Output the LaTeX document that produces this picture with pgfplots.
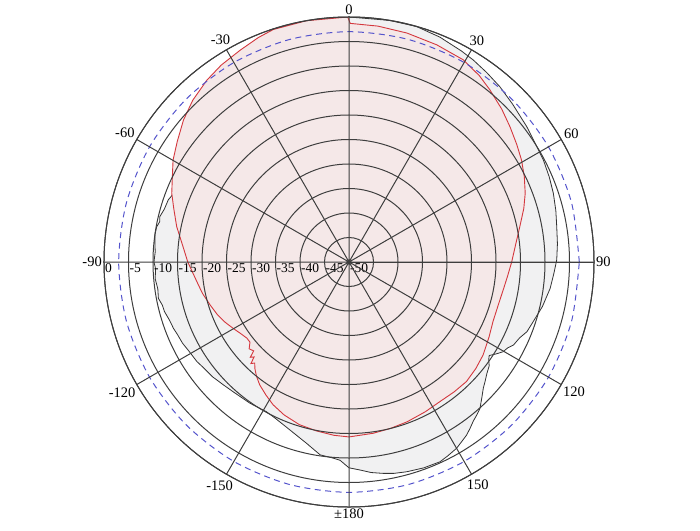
\documentclass[border=0pt]{standalone}
\usepackage{pgfplots}
\pgfplotsset{compat=1.18}
\usepgfplotslibrary{polar}
\usepackage{pgfplotstable}
\usepackage{fontspec}
\setmainfont{Liberation Serif}

\definecolor{pinkfill}{RGB}{245,232,232}
\definecolor{grayfill}{RGB}{241,241,242}
\definecolor{redline}{RGB}{212,56,62}
\definecolor{gridc}{RGB}{62,62,62}
\definecolor{dashc}{RGB}{84,84,204}

% angle in degrees (0 = up, clockwise), level in dB
\pgfplotstableread{
theta db
-180 -14.3
-175 -14.5
-169 -14.9
-163 -15.3
-157 -16.1
-152 -17.0
-148 -18.0
-144 -19.0
-141 -20.0
-138.5 -21.0
-137 -21.8
-136 -21.2
-135 -22.6
-134 -22.0
-133 -23.4
-131 -23.0
-129 -24.0
-126.7 -24.0
-124 -23.6
-120 -22.8
-116 -21.9
-112 -21.1
-107 -20.3
-102 -19.4
-97.4 -18.7
-90 -17.1
-84 -15.8
-78.4 -14.1
-73 -12.6
-68.8 -11.2
-64 -9.9
-59.9 -8.5
-55 -7.2
-49.4 -5.5
-44 -4.1
-38 -2.9
-33 -2.1
-27.2 -1.4
-22 -0.6
-18 -0.1
-10 0.0
-0.3 0.0
0.3 -1.3
7 -1.5
14.2 -1.8
22 -2.2
29.5 -2.6
35 -3.6
39.3 -4.6
45 -5.9
50 -7.1
55 -8.2
59.4 -9.1
64 -10.2
68.7 -11.4
73 -12.7
78.3 -14.4
84 -15.8
90 -16.8
95 -17.5
100 -18.0
106 -18.3
112.5 -18.2
118 -17.6
124.7 -16.7
130 -16.2
135.5 -15.8
141 -15.9
146.9 -16.0
153 -15.7
160 -15.3
166 -15.0
172 -14.7
180 -14.3
}\redtab

\pgfplotstableread{
theta db
-180 -8.0
-177.4 -9.5
-175 -9.9
-171.5 -10.2
-166.8 -12.0
-160 -13.8
-155 -14.7
-151.2 -15.1
-145 -14.8
-138.3 -14.5
-134 -14.1
-130 -13.6
-126 -13.3
-123.2 -12.9
-119 -12.6
-116 -12.2
-113 -12.0
-110.7 -11.7
-108 -11.5
-105 -11.0
-103 -10.9
-100.8 -10.4
-98 -10.6
-95 -10.3
-92 -10.5
-90 -10.2
-87 -10.4
-84.5 -10.2
-82 -10.0
-79.6 -10.1
-78 -10.5
-76.5 -10.3
-74 -10.8
-71 -11.0
-69 -11.5
-67 -11.4
-65.5 -11.9
-64 -11.7
-62.5 -12.3
-61.3 -12.2
-58.5 -12.7
-56.2 -12.6
-54.5 -12.0
-53 -12.2
-50.8 -11.6
-48 -10.9
-46.5 -10.4
-45 -10.0
-43.5 -9.4
-41.8 -8.4
-39 -8.0
-36.7 -7.1
-34.5 -6.6
-32 -5.4
-30.5 -4.6
-29 -3.8
-28.5 -1.8
-27 -1.5
-22 -0.7
-18 -0.1
-10 0.0
0 0.0
9.5 0.0
16 0.0
20 -0.4
22 -0.5
24 -0.8
28 -1.2
31.6 -1.6
36 -2.2
40.7 -2.8
46 -3.6
52.7 -4.4
57 -4.9
62.3 -5.2
67 -5.6
71.4 -6.0
76 -6.5
80.4 -7.0
85 -7.3
89.4 -7.6
93 -8.1
97.5 -8.6
103 -9.5
108 -10.5
111.4 -11.0
114 -11.9
116.8 -12.4
118.5 -13.2
120.2 -13.6
122 -14.6
123.7 -15.6
125 -15.2
126.5 -14.4
129 -13.8
131.4 -13.0
133.2 -12.4
135.5 -11.3
138.2 -9.9
140.2 -9.3
142 -8.8
144 -8.0
145.8 -7.3
148 -6.7
150 -6.1
153 -5.6
155.5 -5.2
160 -5.3
164.6 -5.6
168 -5.9
170.8 -6.3
174 -6.8
177 -7.5
180 -8.0
}\blacktab

\begin{document}
\begin{tikzpicture}[lab/.style={anchor=north west, inner sep=1pt, font=\fontsize{13.5}{13.5}\selectfont}]
\begin{polaraxis}[
    scale only axis,
    width=490pt, height=490pt,
    xmin=0, xmax=360,
    ymin=0, ymax=50,
    xtick={0,30,...,330},
    xticklabels={90,60,30,0,-30,-60,-90,-120,-150,±180,150,120},
    ytick={5,10,...,50},
    yticklabels={},
    grid=major,
    major grid style={gridc, line width=1pt},
    axis line style={gridc, line width=1pt},
    major tick length=0pt,
    axis on top,
    xticklabel style={font=\fontsize{14.5}{14.5}\selectfont, inner sep=2pt},
]
\addplot[draw=black!80, fill=grayfill, line width=0.8pt]
    table[x expr={90-\thisrow{theta}}, y expr={\thisrow{db}+50}] {\blacktab};
\addplot[draw=redline, fill=pinkfill, line width=0.9pt]
    table[x expr={90-\thisrow{theta}}, y expr={\thisrow{db}+50}] {\redtab};
% -3 dB reference circle
\addplot[dashc, line width=1pt, dash pattern=on 6pt off 4.5pt, smooth] coordinates {
    (0,47) (15,47) (30,47) (45,47) (60,47) (75,47) (90,47) (105,47)
    (120,47) (135,47) (150,47) (165,47) (180,47) (195,47) (210,47) (225,47)
    (240,47) (255,47) (270,47) (285,47) (300,47) (315,47) (330,47) (345,47) (360,47)
};
\node[lab] at (axis cs:180,50) {0};
\node[lab] at (axis cs:180,45) {-5};
\node[lab] at (axis cs:180,40) {-10};
\node[lab] at (axis cs:180,35) {-15};
\node[lab] at (axis cs:180,30) {-20};
\node[lab] at (axis cs:180,25) {-25};
\node[lab] at (axis cs:180,20) {-30};
\node[lab] at (axis cs:180,15) {-35};
\node[lab] at (axis cs:180,10) {-40};
\node[lab] at (axis cs:180,5) {-45};
\node[lab] at (axis cs:180,0) {-50};
\coordinate (C) at (axis cs:0,0);
\end{polaraxis}
\pgfresetboundingbox
\path[use as bounding box] ([xshift=-349pt,yshift=-268pt]C) rectangle ([xshift=351pt,yshift=262pt]C);
\end{tikzpicture}
\end{document}
